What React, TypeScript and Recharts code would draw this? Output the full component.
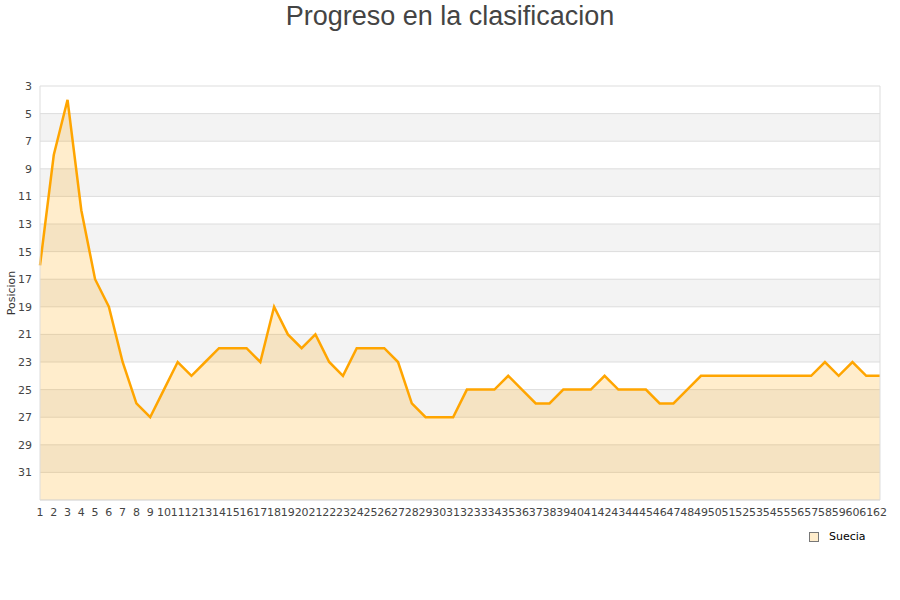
import React from "react"
import { AreaChart, Area, XAxis, YAxis, CartesianGrid } from "recharts"

// Jornadas (x axis categories)
const jornadas = [
  "1", "2", "3", "4", "5", "6", "7", "8", "9", "10",
  "11", "12", "13", "14", "15", "16", "17", "18", "19", "20",
  "21", "22", "23", "24", "25", "26", "27", "28", "29", "30",
  "31", "32", "33", "34", "35", "36", "37", "38", "39", "40",
  "41", "42", "43", "44", "45", "46", "47", "48", "49", "50",
  "51", "52", "53", "54", "55", "56", "57", "58", "59", "60",
  "61", "62",
]

// Posicion de Suecia en cada jornada
const posiciones = [
  16, 8, 4, 12, 17, 19, 23, 26, 27, 25,
  23, 24, 23, 22, 22, 22, 23, 19, 21, 22,
  21, 23, 24, 22, 22, 22, 23, 26, 27, 27,
  27, 25, 25, 25, 24, 25, 26, 26, 25, 25,
  25, 24, 25, 25, 25, 26, 26, 25, 24, 24,
  24, 24, 24, 24, 24, 24, 24, 23, 24, 23,
  24, 24,
]

const yTicks = [3, 5, 7, 9, 11, 13, 15, 17, 19, 21, 23, 25, 27, 29, 31]

const data = jornadas.map((j, i) => ({ jornada: j, posicion: posiciones[i] }))

const ORANGE = "#FFA500"
const FONT = "'DejaVu Sans', sans-serif"

function YLabel({ viewBox }: any) {
  const cx = viewBox.x + 1
  const cy = viewBox.y + viewBox.height / 2
  return (
    <text
      x={cx}
      y={cy}
      transform={`rotate(-90 ${cx} ${cy})`}
      textAnchor="middle"
      dominantBaseline="central"
      fontFamily={FONT}
      fontSize={11}
      fill="#333"
    >
      Posicion
    </text>
  )
}

export default function App() {
  return (
    <div style={{ position: "absolute", left: 0, top: 0, width: 900, height: 600, background: "#fff" }}>
      <div
        style={{
          position: "absolute",
          left: 0,
          top: 0,
          width: 900,
          textAlign: "center",
          fontFamily: "'Liberation Sans', Arial, sans-serif",
          fontSize: 27,
          lineHeight: "32px",
          color: "#444",
        }}
      >
        Progreso en la clasificacion
      </div>
      <AreaChart width={900} height={600} data={data} margin={{ top: 86, right: 19, bottom: 80, left: 10 }}>
        <CartesianGrid vertical={false} stroke="#dddddd" horizontalFill={["#ffffff", "#f3f3f3"]} fillOpacity={1} />
        <XAxis
          dataKey="jornada"
          interval={0}
          height={20}
          tickLine={false}
          axisLine={{ stroke: "#dddddd" }}
          tick={{ fontSize: 11, fill: "#444", fontFamily: FONT }}
        />
        <YAxis
          type="number"
          reversed
          domain={[3, 33]}
          ticks={yTicks}
          interval={0}
          width={30}
          tickLine={false}
          tickMargin={2}
          axisLine={{ stroke: "#dddddd" }}
          tick={{ fontSize: 11, fill: "#444", fontFamily: FONT }}
          label={<YLabel />}
        />
        <YAxis
          yAxisId="r"
          orientation="right"
          width={1}
          domain={[3, 33]}
          tick={false}
          tickLine={false}
          axisLine={{ stroke: "#dddddd", strokeWidth: 1 }}
        />
        <Area
          type="linear"
          dataKey="posicion"
          baseValue="dataMax"
          stroke={ORANGE}
          strokeWidth={2.5}
          fill={ORANGE}
          fillOpacity={0.2}
          dot={false}
          activeDot={false}
          isAnimationActive={false}
        />
      </AreaChart>
      <div
        style={{
          position: "absolute",
          left: 809,
          top: 530,
          display: "flex",
          alignItems: "center",
          fontFamily: FONT,
          fontSize: 11,
          color: "#000",
        }}
      >
        <span style={{ width: 8, height: 8, border: "1px solid #777", background: "#ffedcc", marginRight: 10 }} />
        Suecia
      </div>
    </div>
  )
}
